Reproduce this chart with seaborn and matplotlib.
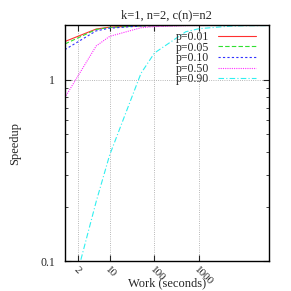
import pandas as pd
import matplotlib
matplotlib.use("Agg")
import matplotlib.pyplot as plt
import matplotlib.ticker as mticker
import seaborn as sns

# work sizes (seconds) and speedup
work = [1, 5, 10, 50, 100, 500, 1000, 5000, 10000, 50000]
labels = ["p=0.01", "p=0.05", "p=0.10", "p=0.50", "p=0.90"]
speedup_001 = [1.63, 1.91, 1.956, 1.991, 1.995, 1.999, 2.0, 2.0, 2.0, 2.0]
speedup_005 = [1.58, 1.90, 1.948, 1.989, 1.995, 1.999, 2.0, 2.0, 2.0, 2.0]
speedup_010 = [1.47, 1.866, 1.931, 1.986, 1.993, 1.999, 2.0, 2.0, 2.0, 2.0]
speedup_050 = [0.80, 1.54, 1.74, 1.942, 1.970, 1.994, 1.997, 1.999, 2.0, 2.0]
speedup_090 = [0.047, 0.213, 0.385, 1.087, 1.408, 1.845, 1.919, 1.983, 1.992, 1.998]

x_ticks = [2, 10, 100, 1000]
colors = ["#ff3030", "#30e030", "#3030ff", "#ff30ff", "#30f0f0"]

rows = []
for lab, vals in zip(labels, [speedup_001, speedup_005, speedup_010,
                              speedup_050, speedup_090]):
    for w, s in zip(work, vals):
        rows.append({"work": w, "speedup": s, "series": lab})
df = pd.DataFrame(rows)

sns.set_style("ticks")
plt.rcParams["font.family"] = ["Liberation Serif", "DejaVu Serif"]

fig = plt.figure(figsize=(2.91, 2.91), dpi=100)
ax = fig.add_axes([0.223, 0.103, 0.701, 0.811])

dashes = {
    "p=0.01": "",
    "p=0.05": (4, 2),
    "p=0.10": (2, 2),
    "p=0.50": (1, 1),
    "p=0.90": (5, 2, 1, 2),
}
sns.lineplot(data=df, x="work", y="speedup", hue="series", style="series",
             palette=dict(zip(labels, colors)), dashes=dashes, linewidth=0.8,
             ax=ax, legend=True)

ax.set_xscale("log")
ax.set_yscale("log")
ax.set_xlim(1, 36000)
ax.set_ylim(0.1, 2.01)

ax.xaxis.set_major_locator(mticker.FixedLocator(x_ticks))
ax.xaxis.set_minor_locator(mticker.NullLocator())
ax.set_xticklabels([str(t) for t in x_ticks], rotation=-45, ha="left",
                   rotation_mode="anchor", fontsize=8)
ax.yaxis.set_major_locator(mticker.FixedLocator([0.1, 1]))
ax.yaxis.set_major_formatter(mticker.FixedFormatter(["0.1", "1"]))
ax.yaxis.set_minor_locator(mticker.LogLocator(base=10, subs=range(2, 10)))
ax.yaxis.set_minor_formatter(mticker.NullFormatter())
ax.tick_params(axis="both", which="major", direction="in", length=4,
               width=0.8, top=True, right=True, labelsize=8.5, pad=4)
ax.tick_params(axis="x", which="major", labelsize=8, pad=3)
ax.tick_params(axis="y", which="minor", direction="in", length=2.5,
               width=0.6, right=True)
ax.tick_params(axis="y", which="major", pad=7)

ax.grid(True, which="major", linestyle=":", color="#a0a0a0", linewidth=0.6)
for sp in ax.spines.values():
    sp.set_linewidth(1.0)
    sp.set_color("black")

ax.set_title("k=1, n=2, c(n)=n2", fontsize=9, pad=5)
ax.set_xlabel("Work (seconds)", fontsize=9, va="center")
ax.xaxis.set_label_coords(0.5, -0.093)
ax.set_ylabel("Speedup", fontsize=9, va="center")
ax.yaxis.set_label_coords(-0.245, 0.5)

handles, labs = ax.get_legend_handles_labels()
ax.legend(handles, labs, loc="upper right", frameon=False, fontsize=8.5,
          markerfirst=False, handlelength=3.2, handletextpad=0.75,
          labelspacing=-0.12, borderpad=0, borderaxespad=0,
          bbox_to_anchor=(0.935, 0.975))

fig.savefig("out.png", dpi=100)
